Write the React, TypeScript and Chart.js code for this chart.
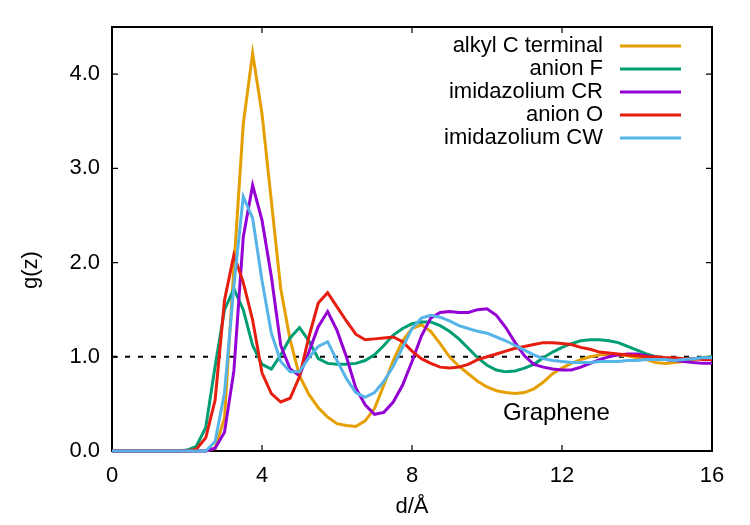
import React, { useEffect, useRef } from "react";
import { Chart, registerables } from "chart.js";

Chart.register(...registerables);

// Distance from the graphene surface (Å)
const distance = [
  0, 0.25, 0.5, 0.75, 1, 1.25, 1.5, 1.75, 2, 2.25, 2.5, 2.75, 3, 3.25, 3.5, 3.75,
  4, 4.25, 4.5, 4.75, 5, 5.25, 5.5, 5.75, 6, 6.25, 6.5, 6.75, 7, 7.25, 7.5, 7.75,
  8, 8.25, 8.5, 8.75, 9, 9.25, 9.5, 9.75, 10, 10.25, 10.5, 10.75, 11, 11.25, 11.5, 11.75,
  12, 12.25, 12.5, 12.75, 13, 13.25, 13.5, 13.75, 14, 14.25, 14.5, 14.75, 15, 15.25, 15.5, 15.75,
  16,
];

const alkylCTerminal = [
  0, 0, 0, 0, 0, 0, 0, 0, 0, 0, 0, 0.03, 0.35, 1.95, 3.47, 4.22,
  3.58, 2.65, 1.72, 1.18, 0.8, 0.6, 0.46, 0.36, 0.29, 0.27, 0.26, 0.32, 0.45, 0.7, 0.96, 1.17,
  1.3, 1.34, 1.27, 1.14, 1.0, 0.9, 0.82, 0.74, 0.68, 0.64, 0.62, 0.61, 0.62, 0.66, 0.73, 0.82,
  0.88, 0.93, 0.97, 1.0, 1.02, 1.03, 1.02, 1.01, 0.99, 0.97, 0.94, 0.93, 0.94, 0.95, 0.97, 0.99,
  1.0,
];

const anionF = [
  0, 0, 0, 0, 0, 0, 0, 0, 0.01, 0.05, 0.25, 0.9, 1.5, 1.72, 1.5, 1.12,
  0.92, 0.87, 1.02, 1.2, 1.31, 1.17, 0.98, 0.93, 0.92, 0.92, 0.93, 0.96, 1.02, 1.12, 1.23, 1.3,
  1.35, 1.37, 1.37, 1.33, 1.27, 1.19, 1.09, 0.99, 0.91, 0.86, 0.84, 0.85, 0.88, 0.92, 0.99, 1.05,
  1.1, 1.14, 1.17, 1.18, 1.18, 1.17, 1.15, 1.11, 1.07, 1.03, 1.0, 0.98, 0.97, 0.97, 0.98, 0.99,
  1.0,
];

const imidazoliumCR = [
  0, 0, 0, 0, 0, 0, 0, 0, 0, 0, 0, 0.03, 0.2, 0.85, 2.27, 2.82,
  2.45, 1.85, 1.12, 0.87, 0.8, 1.05, 1.32, 1.48, 1.28, 1.0, 0.67, 0.49, 0.39, 0.41, 0.52, 0.7,
  0.95, 1.22, 1.41, 1.47, 1.48, 1.47, 1.47, 1.5, 1.51, 1.44, 1.31, 1.15, 1.01, 0.92, 0.89, 0.87,
  0.86, 0.86, 0.89, 0.93, 0.97, 1.0, 1.02, 1.03, 1.03, 1.01, 0.99, 0.97, 0.96, 0.95, 0.94, 0.93,
  0.93,
];

const anionO = [
  0, 0, 0, 0, 0, 0, 0, 0, 0, 0.02, 0.14, 0.54, 1.6, 2.08, 1.79, 1.39,
  0.83, 0.61, 0.52, 0.56, 0.79, 1.21, 1.57, 1.68, 1.53, 1.38, 1.24, 1.18, 1.19, 1.2, 1.21, 1.16,
  1.06, 0.98, 0.93, 0.89, 0.88, 0.89, 0.92, 0.97, 1.0, 1.03, 1.06, 1.09, 1.11, 1.13, 1.15, 1.15,
  1.14, 1.13, 1.1, 1.08, 1.05, 1.04, 1.03, 1.02, 1.01, 1.0, 1.0, 0.99, 0.99, 0.98, 0.98, 0.97,
  0.97,
];

const imidazoliumCW = [
  0, 0, 0, 0, 0, 0, 0, 0, 0, 0, 0, 0.1, 0.62, 1.75, 2.7, 2.47,
  1.81, 1.25, 0.95, 0.84, 0.84, 0.99, 1.11, 1.16, 0.96, 0.77, 0.62, 0.57, 0.62, 0.74, 0.9, 1.1,
  1.3, 1.41, 1.44, 1.42, 1.38, 1.33, 1.3, 1.27, 1.25, 1.21, 1.17, 1.12, 1.07, 1.02, 0.98, 0.96,
  0.95, 0.94, 0.94, 0.94, 0.95, 0.95, 0.95, 0.96, 0.96, 0.97, 0.97, 0.97, 0.96, 0.97, 0.98, 0.99,
  0.99,
];

const seriesNames = ["alkyl C terminal", "anion F", "imidazolium CR", "anion O", "imidazolium CW"];
const seriesValues = [alkylCTerminal, anionF, imidazoliumCR, anionO, imidazoliumCW];
const seriesColors = ["#e69f00", "#009e73", "#9400d3", "#e51e10", "#56b4e9"];

const xTicks = [0, 4, 8, 12, 16];
const yTicks = [0, 1, 2, 3, 4];
const referenceLevel = 1.0;

const FONT = '"Liberation Sans", Arial, Helvetica, sans-serif';
const FONT_SIZE = 22;

// Border, inward ticks, key, annotation and axis titles in the gnuplot style
const framePlugin = {
  id: "gnuplotFrame",
  beforeDatasetsDraw(chart: any) {
    const { ctx, chartArea, scales } = chart;
    const { left, right, top, bottom } = chartArea;
    const xs = scales.x;
    const ys = scales.y;
    ctx.save();

    // dashed reference level
    ctx.strokeStyle = "#000";
    ctx.lineWidth = 2;
    ctx.setLineDash([5, 8]);
    const yr = ys.getPixelForValue(referenceLevel);
    ctx.beginPath();
    ctx.moveTo(xs.getPixelForValue(0), yr);
    ctx.lineTo(xs.getPixelForValue(16), yr);
    ctx.stroke();
    ctx.setLineDash([]);

    // ticks pointing inward on all four sides
    ctx.lineWidth = 1.2;
    const tl = 6;
    ctx.beginPath();
    xTicks.forEach((v) => {
      const px = xs.getPixelForValue(v);
      ctx.moveTo(px, bottom);
      ctx.lineTo(px, bottom - tl);
      ctx.moveTo(px, top);
      ctx.lineTo(px, top + tl);
    });
    yTicks.forEach((v) => {
      const py = ys.getPixelForValue(v);
      ctx.moveTo(left, py);
      ctx.lineTo(left + tl, py);
      ctx.moveTo(right, py);
      ctx.lineTo(right - tl, py);
    });
    ctx.stroke();

    // border
    ctx.lineWidth = 2;
    ctx.strokeRect(left, top, right - left, bottom - top);
    ctx.restore();
  },
  afterDatasetsDraw(chart: any) {
    const { ctx, chartArea } = chart;
    ctx.save();
    ctx.font = `${FONT_SIZE}px ${FONT}`;
    ctx.fillStyle = "#000";
    ctx.textBaseline = "middle";

    // key: label on the left, line sample on the right
    seriesNames.forEach((name, i) => {
      const y = 46 + i * 23;
      ctx.textAlign = "right";
      ctx.fillStyle = "#000";
      ctx.fillText(name, 603, y);
      ctx.strokeStyle = seriesColors[i];
      ctx.lineWidth = 3;
      ctx.beginPath();
      ctx.moveTo(620, y);
      ctx.lineTo(681, y);
      ctx.stroke();
    });

    // surface annotation
    ctx.font = `24px ${FONT}`;
    ctx.textAlign = "left";
    ctx.fillStyle = "#000";
    ctx.fillText("Graphene", 503, 413);

    // axis titles
    ctx.font = `${FONT_SIZE}px ${FONT}`;
    ctx.textAlign = "center";
    ctx.fillText("d/Å", (chartArea.left + chartArea.right) / 2, 507);
    ctx.save();
    ctx.translate(31, 270);
    ctx.rotate(-Math.PI / 2);
    ctx.fillText("g(z)", 0, 0);
    ctx.restore();

    ctx.restore();
  },
};

export default function App() {
  const canvasRef = useRef<HTMLCanvasElement | null>(null);

  useEffect(() => {
    const canvas = canvasRef.current;
    if (!canvas) return;

    const datasets = seriesNames.map((name, i) => ({
      label: name,
      data: distance.map((d, k) => ({ x: d, y: seriesValues[i][k] })),
      borderColor: seriesColors[i],
      backgroundColor: seriesColors[i],
      borderWidth: 3,
      pointRadius: 0,
      tension: 0,
      fill: false,
      clip: false as const,
      order: seriesNames.length - i,
    }));

    const chart = new Chart(canvas, {
      type: "line",
      data: { datasets },
      options: {
        animation: false,
        responsive: false,
        layout: { padding: { top: 27, right: 38, left: 0, bottom: 0 } },
        plugins: {
          legend: { display: false },
          tooltip: { enabled: false },
          title: { display: false },
        },
        scales: {
          x: {
            type: "linear",
            min: 0,
            max: 16,
            grid: { display: false, drawTicks: false },
            border: { display: false },
            afterBuildTicks: (scale: any) => {
              scale.ticks = xTicks.map((v) => ({ value: v }));
            },
            afterFit: (scale: any) => {
              scale.height = 74;
            },
            ticks: {
              padding: 12,
              color: "#000",
              maxRotation: 0,
              font: { family: FONT, size: FONT_SIZE },
              callback: (v: any) => String(v),
            },
          },
          y: {
            type: "linear",
            min: 0,
            max: 4.5,
            grid: { display: false, drawTicks: false },
            border: { display: false },
            afterBuildTicks: (scale: any) => {
              scale.ticks = yTicks.map((v) => ({ value: v }));
            },
            afterFit: (scale: any) => {
              scale.width = 112;
            },
            ticks: {
              padding: 12,
              color: "#000",
              font: { family: FONT, size: FONT_SIZE },
              callback: (v: any) => Number(v).toFixed(1),
            },
          },
        },
      },
      plugins: [framePlugin],
    });

    return () => chart.destroy();
  }, []);

  return (
    <div style={{ position: "absolute", left: 0, top: 0, width: 750, height: 525, background: "#fff" }}>
      <canvas ref={canvasRef} width={750} height={525} style={{ display: "block" }} />
    </div>
  );
}
